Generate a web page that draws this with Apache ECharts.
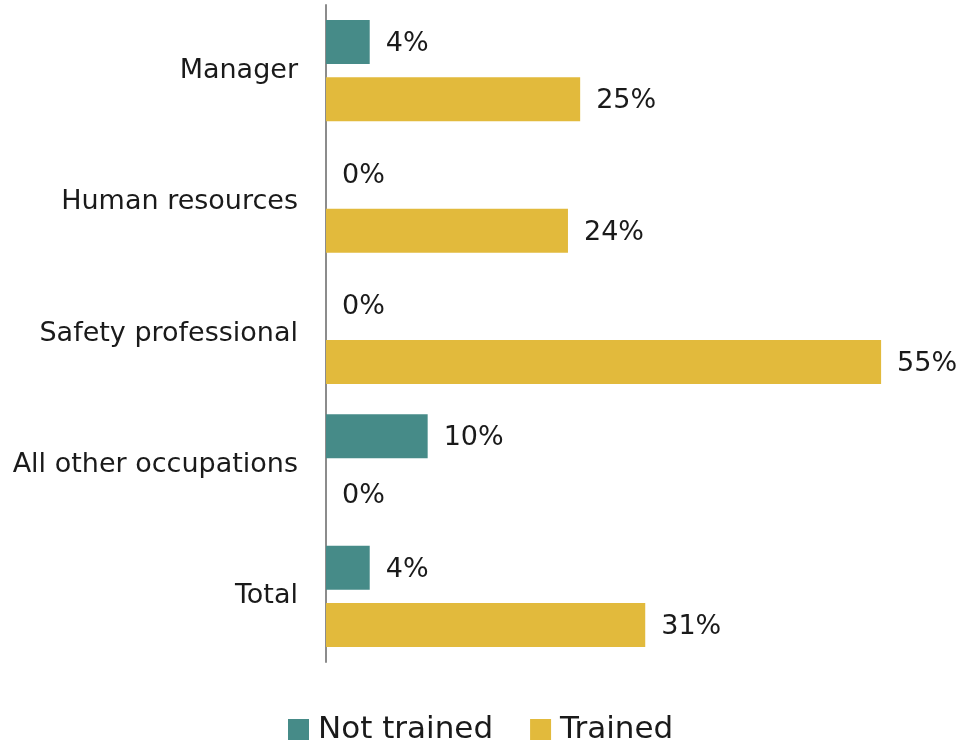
<!DOCTYPE html>
<html>
<head>
<meta charset="utf-8">
<script src="https://cdn.jsdelivr.net/npm/echarts@6/dist/echarts.min.js"></script>
<style>
  html, body { margin: 0; padding: 0; background: #ffffff; }
  #chart { width: 976px; height: 746px; }
</style>
</head>
<body>
<div id="chart"></div>
<script>
// occupations, top to bottom
const categories = ['Manager', 'Human resources', 'Safety professional', 'All other occupations', 'Total']
// percent of respondents
const notTrained = [4.3, 0, 0, 10, 4.3]
const trained = [25, 23.8, 54.6, 0, 31.4]

const chart = echarts.init(document.getElementById('chart'))

const labelStyle = {
  show: true,
  position: 'right',
  distance: 16,
  offset: [0, 2],
  color: '#1a1a1a',
  fontSize: 27,
  fontFamily: 'DejaVu Sans',
  formatter: (p) => Math.round(p.value) + '%',
}

chart.setOption({
  animation: false,
  textStyle: {
    fontFamily: 'DejaVu Sans',
  },
  grid: {
    left: 326,
    right: 40,
    top: 5,
    bottom: 84,
  },
  xAxis: {
    type: 'value',
    min: 0,
    max: 60,
    show: false,
  },
  yAxis: {
    type: 'category',
    data: categories,
    inverse: true,
    axisLine: {
      show: true,
      lineStyle: {
        color: '#8c8c8c',
        width: 2,
      },
    },
    axisTick: { show: false },
    axisLabel: {
      color: '#1a1a1a',
      fontSize: 27,
      margin: 28,
      padding: [4, 0, 0, 0],
    },
  },
  legend: {
    data: ['Not trained', 'Trained'],
    icon: 'rect',
    bottom: -4,
    left: 283,
    itemWidth: 21,
    itemHeight: 21,
    itemGap: 37,
    textStyle: {
      color: '#1a1a1a',
      fontSize: 31,
      padding: [0, 0, 0, 4],
    },
  },
  series: [
    {
      name: 'Not trained',
      type: 'bar',
      data: notTrained,
      barWidth: 44,
      barGap: '30%',
      itemStyle: { color: '#468b88' },
      label: labelStyle,
    },
    {
      name: 'Trained',
      type: 'bar',
      data: trained,
      barWidth: 44,
      barGap: '30%',
      itemStyle: { color: '#e2ba3c' },
      label: labelStyle,
    },
  ],
})
</script>
</body>
</html>
